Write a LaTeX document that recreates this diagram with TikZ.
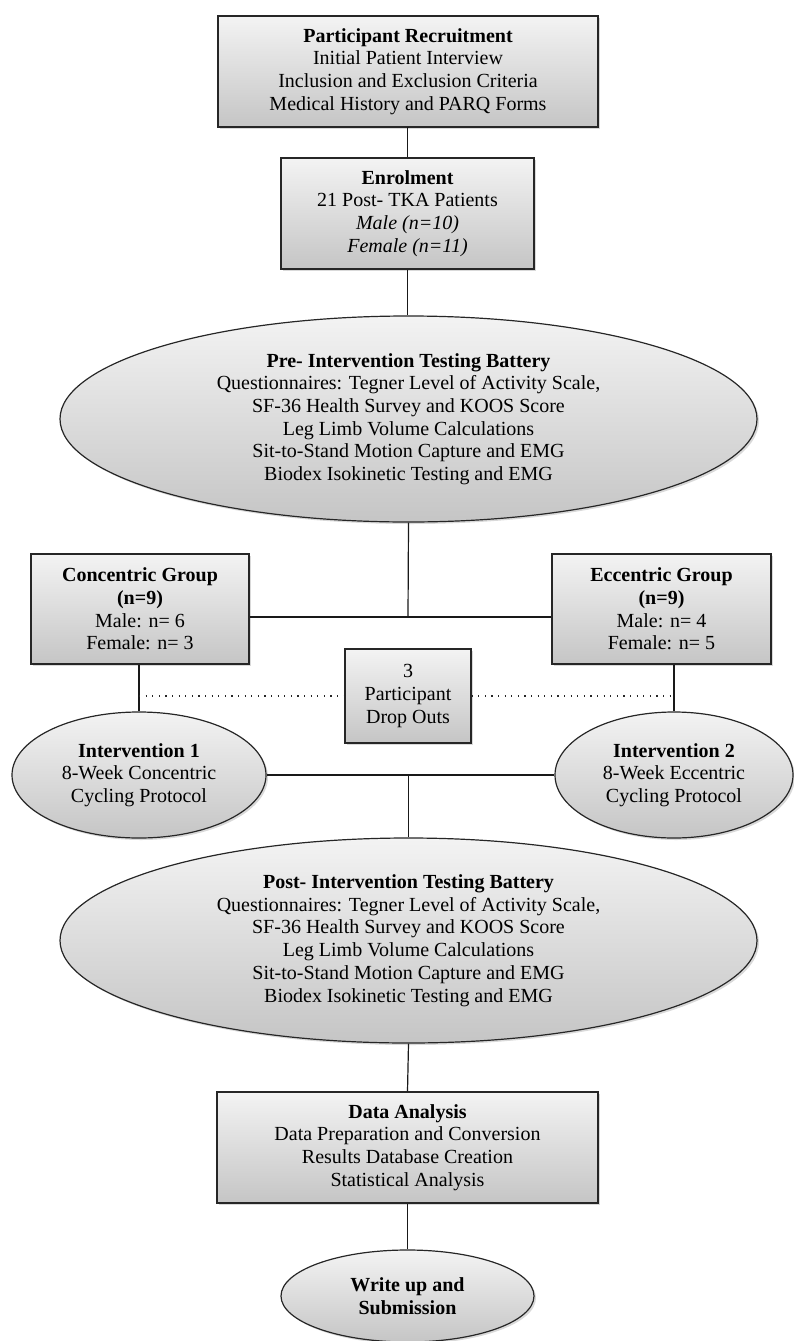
\documentclass[tikz,border=0pt]{standalone}
\usepackage{fontspec}
\setmainfont{Liberation Serif}
\usetikzlibrary{shapes.geometric,shadows}
\definecolor{shtop}{HTML}{F3F3F3}
\definecolor{shbot}{HTML}{C5C5C5}
\begin{document}
\begin{tikzpicture}[x=1pt,y=-1pt,
  base/.style={draw=black!85, line width=1.2pt, top color=shtop, bottom color=shbot,
    inner sep=0pt, align=center, font=\fontsize{20}{22.7}\selectfont,
    drop shadow={shadow xshift=2pt, shadow yshift=-2pt, opacity=0.3}},
  stepbox/.style={base, rectangle},
  oval/.style={base, ellipse},
  link/.style={line width=1.2pt, draw=black!90},
  droplink/.style={line width=1.2pt, draw=black!85, dash pattern=on 1.2pt off 5.4pt}]

\useasboundingbox (0,0) rectangle (793,1341);

% recruitment and enrolment
\node[stepbox, minimum width=380pt, minimum height=111pt] (recruit) at (408,71.5)
  {\textbf{Participant Recruitment}\\Initial Patient Interview\\Inclusion and Exclusion Criteria\\Medical History and PARQ Forms};
\node[stepbox, minimum width=253pt, minimum height=111pt] (enrol) at (407.5,213.5)
  {\textbf{Enrolment}\\21 Post- TKA Patients\\\textit{Male (n=10)}\\\textit{Female (n=11)}};

% baseline testing
\node[oval, minimum width=697pt, minimum height=206pt] (pre) at (408.5,419)
  {\textbf{Pre- Intervention Testing Battery}\\Questionnaires: Tegner Level of Activity Scale,\\SF-36 Health Survey and KOOS Score\\Leg Limb Volume Calculations\\Sit-to-Stand Motion Capture and EMG\\Biodex Isokinetic Testing and EMG};

% groups
\node[stepbox, minimum width=218pt, minimum height=110pt] (conc) at (140,609)
  {\textbf{Concentric Group}\\\textbf{(n=9)}\\Male: n= 6\\Female: n= 3};
\node[stepbox, minimum width=219pt, minimum height=110pt] (ecc) at (661.5,609)
  {\textbf{Eccentric Group}\\\textbf{(n=9)}\\Male: n= 4\\Female: n= 5};
\node[stepbox, minimum width=126pt, minimum height=94pt] (drop) at (408,696)
  {3\\Participant\\Drop Outs};

% interventions
\node[oval, minimum width=254pt, minimum height=126pt] (int1) at (139,775)
  {\textbf{Intervention 1}\\8-Week Concentric\\Cycling Protocol};
\node[oval, minimum width=238pt, minimum height=126pt] (int2) at (674,775)
  {\textbf{Intervention 2}\\8-Week Eccentric\\Cycling Protocol};

% follow-up testing
\node[oval, minimum width=697pt, minimum height=205pt] (post) at (408.5,940.5)
  {\textbf{Post- Intervention Testing Battery}\\Questionnaires: Tegner Level of Activity Scale,\\SF-36 Health Survey and KOOS Score\\Leg Limb Volume Calculations\\Sit-to-Stand Motion Capture and EMG\\Biodex Isokinetic Testing and EMG};

% analysis and reporting
\node[stepbox, minimum width=381pt, minimum height=111pt] (data) at (407.5,1147.5)
  {\textbf{Data Analysis}\\Data Preparation and Conversion\\Results Database Creation\\Statistical Analysis};
\node[oval, minimum width=253pt, minimum height=92pt] (write) at (407.5,1296)
  {\textbf{Write up and}\\\textbf{Submission}};

% connectors
\coordinate (split) at (408,617);
\draw[link] (recruit.south) -- (enrol.south |- recruit.south) -- (enrol.north);
\draw[link] (enrol.south) -- (enrol.south |- pre.north);
\draw[link] (pre.south) -- (split);
\draw[link] (conc.east |- split) -- (ecc.west |- split);
\draw[link] (conc.south -| int1.north) -- (int1.north);
\draw[link] (ecc.south -| int2.north) -- (int2.north);
\draw[droplink] (int1.north |- drop.west) -- (drop.west);
\draw[droplink] (drop.east) -- (int2.north |- drop.east);
\draw[link] (int1.east) -- (int2.west);
\draw[link] (post.north |- int1.east) -- (post.north);
\draw[link] (post.south) -- (data.north);
\draw[link] (data.south) -- (write.north);
\end{tikzpicture}
\end{document}
